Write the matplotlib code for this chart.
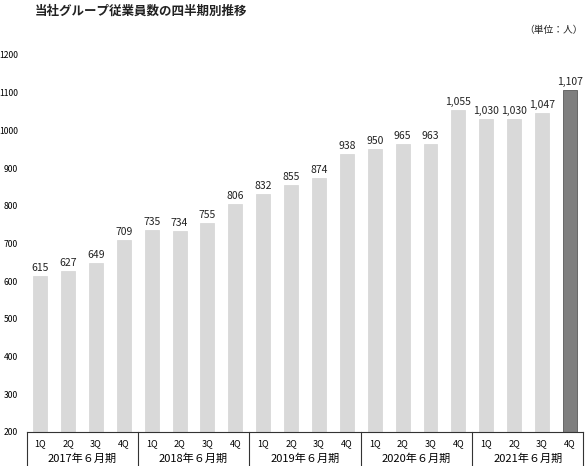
import matplotlib
matplotlib.use("Agg")
import matplotlib.pyplot as plt
from matplotlib.transforms import blended_transform_factory

plt.rcParams['font.family'] = ['Noto Sans CJK JP', 'DejaVu Sans']

years = ["2017年６月期", "2018年６月期", "2019年６月期", "2020年６月期", "2021年６月期"]
quarters = ["1Q", "2Q", "3Q", "4Q"]
values = [615, 627, 649, 709, 735, 734, 755, 806, 832, 855, 874, 938,
          950, 965, 963, 1055, 1030, 1030, 1047, 1107]
yticks = [200, 300, 400, 500, 600, 700, 800, 900, 1000, 1100, 1200]
title = "当社グループ従業員数の四半期別推移"
unit = "（単位：人）"

fig = plt.figure(figsize=(5.85, 4.66), dpi=100)
ax = fig.add_axes([0.0462, 0.073, 0.9504, 0.809])

n = len(values)
xs = list(range(n))
colors = ["#d9d9d9"] * (n - 1) + ["#7f7f7f"]
edges = ["#d9d9d9"] * (n - 1) + ["#595959"]
ax.bar(xs, [v - 200 for v in values], bottom=200, width=0.5, color=colors,
       edgecolor=edges, linewidth=0.6)

for x, v in zip(xs, values):
    ax.text(x, v + 8, f"{v:,}", ha="center", va="bottom", fontsize=7.5,
            color="#222222")

ax.set_ylim(200, 1200)
ax.set_xlim(-0.47, 19.47)
ax.set_yticks(yticks)
ax.set_yticklabels([str(t) for t in yticks], fontsize=6.2)
ax.tick_params(axis="y", length=0, pad=6.5)
ax.set_xticks([])
for s in ["top", "right", "left"]:
    ax.spines[s].set_visible(False)
ax.spines["bottom"].set_linewidth(0.8)
ax.spines["bottom"].set_color("#333333")

trans = blended_transform_factory(ax.transData, ax.transAxes)
# quarter labels
for i, x in enumerate(xs):
    ax.text(x, -0.03, quarters[i % 4], transform=trans, ha="center",
            va="center", fontsize=6.5, clip_on=False)
# year labels and separators
ngroups = len(years)
for g, yl in enumerate(years):
    ax.text(g * 4 + 1.5, -0.071, yl, transform=trans, ha="center",
            va="center", fontsize=8, clip_on=False)
for g in range(ngroups + 1):
    xpos = g * 4 - 0.5
    if g == 0:
        xpos = -0.47
    if g == ngroups:
        xpos = 19.47
    ax.plot([xpos, xpos], [0, -0.2], transform=trans, color="#333333",
            linewidth=0.8, clip_on=False)

fig.text(0.06, 0.975, title, ha="left", va="center", fontsize=9,
         fontweight="bold", color="#222222")
fig.text(0.997, 0.935, unit, ha="right", va="center", fontsize=7,
         color="#222222")

fig.savefig("out.png", dpi=100)
